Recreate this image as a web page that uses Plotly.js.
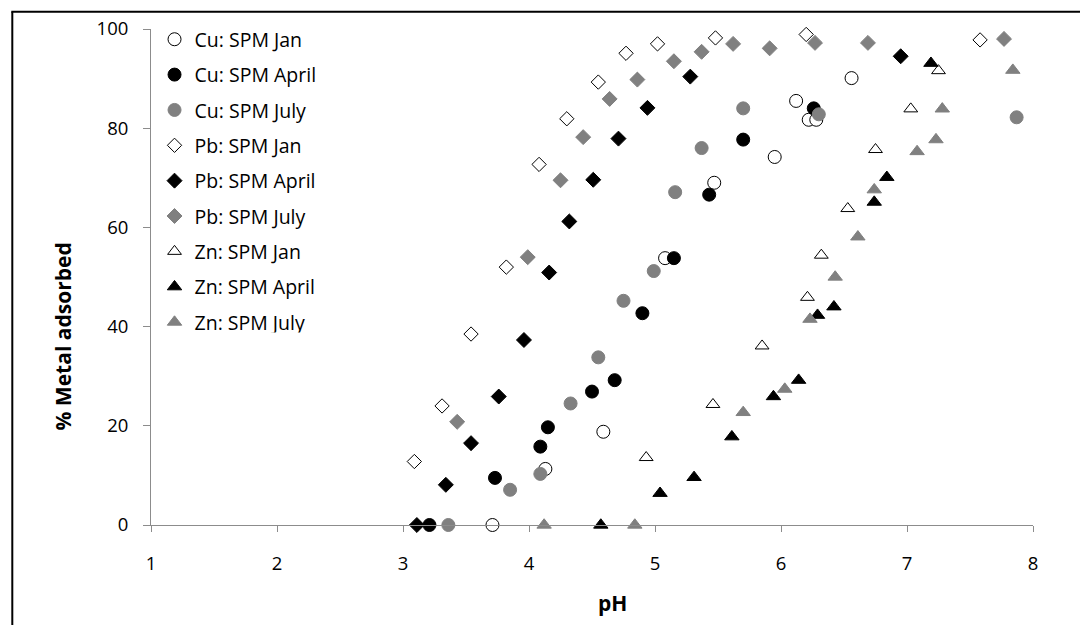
<!DOCTYPE html>
<html>
<head>
<meta charset="utf-8">
<script src="https://cdn.plot.ly/plotly-3.0.1.min.js"></script>
<style>html,body{margin:0;padding:0;background:#fff;}#chart{width:1080px;height:625px;}</style>
</head>
<body>
<div id="chart"></div>
<script>
// ---- data (pH, % metal adsorbed) ----
const cuJanX   = [3.71, 4.13, 4.59, 5.08, 5.47, 5.95, 6.12, 6.22, 6.28, 6.56];
const cuJanY   = [0.0, 11.3, 18.8, 53.8, 69.0, 74.2, 85.5, 81.7, 81.7, 90.1];
const cuAprX   = [3.21, 3.73, 4.09, 4.15, 4.50, 4.68, 4.90, 5.15, 5.43, 5.70, 6.26];
const cuAprY   = [0.0, 9.5, 15.8, 19.7, 26.9, 29.2, 42.7, 53.8, 66.6, 77.7, 84.0];
const cuJulX   = [3.36, 3.85, 4.09, 4.33, 4.55, 4.75, 4.99, 5.16, 5.37, 5.70, 6.30, 7.87];
const cuJulY   = [0.0, 7.1, 10.3, 24.5, 33.8, 45.2, 51.2, 67.1, 76.0, 84.0, 82.8, 82.2];
const pbJanX   = [3.09, 3.31, 3.54, 3.82, 4.08, 4.30, 4.55, 4.77, 5.02, 5.48, 6.20, 7.58];
const pbJanY   = [12.8, 24.0, 38.5, 52.0, 72.7, 81.9, 89.3, 95.1, 97.0, 98.2, 98.9, 97.8];
const pbAprX   = [3.11, 3.34, 3.54, 3.76, 3.96, 4.16, 4.32, 4.51, 4.71, 4.94, 5.28, 6.95];
const pbAprY   = [0.0, 8.1, 16.5, 25.9, 37.3, 50.9, 61.2, 69.6, 77.9, 84.1, 90.4, 94.5];
const pbJulX   = [3.43, 3.99, 4.25, 4.43, 4.64, 4.86, 5.15, 5.37, 5.62, 5.91, 6.27, 6.69, 7.77];
const pbJulY   = [20.8, 54.0, 69.5, 78.2, 85.9, 89.8, 93.5, 95.4, 97.0, 96.1, 97.2, 97.2, 98.0];
const znJanX   = [4.93, 5.46, 5.85, 6.21, 6.32, 6.53, 6.75, 7.03, 7.25];
const znJanY   = [13.6, 24.3, 36.1, 45.9, 54.4, 63.8, 75.7, 83.9, 91.6];
const znAprX   = [4.57, 5.04, 5.31, 5.61, 5.94, 6.14, 6.29, 6.42, 6.74, 6.84, 7.19];
const znAprY   = [0.0, 6.4, 9.6, 17.8, 25.9, 29.2, 42.3, 44.0, 65.1, 70.1, 93.1];
const znJulX   = [4.12, 4.84, 5.70, 6.03, 6.23, 6.43, 6.61, 6.74, 7.08, 7.23, 7.28, 7.84];
const znJulY   = [0.0, 0.0, 22.7, 27.4, 41.5, 50.0, 58.1, 67.6, 75.3, 77.7, 83.9, 91.7];

const seriesNames = ['Cu: SPM Jan','Cu: SPM April','Cu: SPM July',
                     'Pb: SPM Jan','Pb: SPM April','Pb: SPM July',
                     'Zn: SPM Jan','Zn: SPM April','Zn: SPM July'];
const xTicks = [1, 2, 3, 4, 5, 6, 7, 8];
const yTicks = [0, 20, 40, 60, 80, 100];
const xTitle = 'pH';
const yTitle = '% Metal adsorbed';

const GRAY = '#808080';
function mk(name, x, y, symbol, fill, size, gi){
  return {
    type: 'scatter', mode: 'markers', name: name, x: x, y: y,
    legendgroup: 'g' + gi,
    marker: {symbol: symbol, size: size, color: fill,
             line: {color: fill === '#ffffff' ? '#000000' : fill, width: 1}},
    cliponaxis: false
  };
}
const data = [
  mk(seriesNames[0], cuJanX, cuJanY, 'circle', '#ffffff', 13, 0),
  mk(seriesNames[1], cuAprX, cuAprY, 'circle', '#000000', 13, 1),
  mk(seriesNames[2], cuJulX, cuJulY, 'circle', GRAY, 13, 2),
  mk(seriesNames[3], pbJanX, pbJanY, 'diamond', '#ffffff', 11, 3),
  mk(seriesNames[4], pbAprX, pbAprY, 'diamond', '#000000', 11.5, 4),
  mk(seriesNames[5], pbJulX, pbJulY, 'diamond', GRAY, 11.5, 5),
  mk(seriesNames[6], znJanX, znJanY, 'triangle-up', '#ffffff', 12, 6),
  mk(seriesNames[7], znAprX, znAprY, 'triangle-up', '#000000', 12.5, 7),
  mk(seriesNames[8], znJulX, znJulY, 'triangle-up', GRAY, 12.5, 8)
];

const FONT = 'Open Sans, Noto Sans, sans-serif';
const layout = {
  width: 1080, height: 625,
  margin: {l: 150.7, r: 47.3, t: 29.3, b: 99.7, pad: 0},
  paper_bgcolor: '#ffffff', plot_bgcolor: '#ffffff',
  font: {family: FONT, size: 18, color: '#000000'},
  showlegend: true,
  legend: {x: 0.004, y: 1.018, xanchor: 'left', yanchor: 'top',
           bgcolor: 'rgba(0,0,0,0)', font: {family: FONT, size: 19.5, color: '#000'},
           tracegroupgap: 7, itemwidth: 30},
  xaxis: {range: [1, 8], tickvals: xTicks, ticktext: xTicks.map(String),
          showgrid: false, zeroline: false, showline: true, linecolor: '#8c8c8c', linewidth: 1,
          ticks: 'outside', ticklen: 6, tickcolor: '#8c8c8c', ticklabelstandoff: 16,
          tickfont: {family: FONT, size: 18.5}, fixedrange: true},
  yaxis: {range: [0, 100], tickvals: yTicks, ticktext: yTicks.map(String),
          showgrid: false, zeroline: false, showline: true, linecolor: '#8c8c8c', linewidth: 1,
          ticks: 'outside', ticklen: 7, tickcolor: '#8c8c8c', ticklabelstandoff: 11,
          tickfont: {family: FONT, size: 18.5}, fixedrange: true},
  annotations: [
    {text: '<b>' + xTitle + '</b>', xref: 'paper', yref: 'paper',
     x: (612 - 150.7) / 882, y: (525.3 - 603) / 496, xanchor: 'center', yanchor: 'middle',
     showarrow: false, font: {family: FONT, size: 21}},
    {text: '<b>' + yTitle + '</b>', xref: 'paper', yref: 'paper', textangle: -90,
     x: (63 - 150.7) / 882, y: (525.3 - 336.5) / 496, xanchor: 'center', yanchor: 'middle',
     showarrow: false, font: {family: FONT, size: 21}}
  ],
  shapes: [
    {type: 'line', xref: 'paper', yref: 'paper', x0: (12 - 150.7) / 882, x1: (12 - 150.7) / 882,
     y0: (525.3 - 626) / 496, y1: (525.3 - 12) / 496, line: {color: '#000', width: 2}},
    {type: 'line', xref: 'paper', yref: 'paper', x0: (11 - 150.7) / 882, x1: (1081 - 150.7) / 882,
     y0: (525.3 - 12) / 496, y1: (525.3 - 12) / 496, line: {color: '#000', width: 2}}
  ]
};

Plotly.newPlot('chart', data, layout, {displayModeBar: false, staticPlot: true});
</script>
</body>
</html>
